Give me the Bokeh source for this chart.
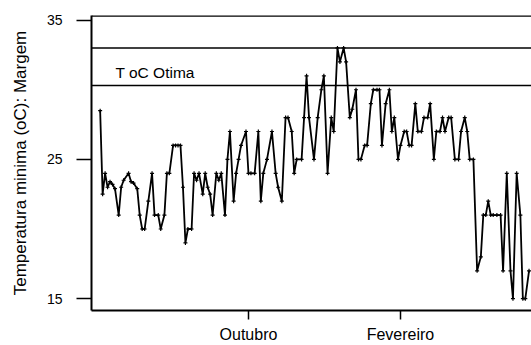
from bokeh.plotting import figure
from bokeh.models import Range1d, Span, FixedTicker, Label
from bokeh.embed import file_html
from bokeh.resources import INLINE

# days relative to 1 October
days = [-120, -118, -116, -114, -112, -110, -108, -105, -103, -101,
        -97, -95, -93, -90, -88, -86, -84, -81, -78, -76,
        -73, -71, -68, -66, -64, -61, -59, -57, -55, -53,
        -51, -49, -46, -44, -42, -40, -37, -35, -33, -31,
        -29, -26, -24, -22, -19, -17, -15, -12, -10, -8,
        -6, -2, 0, 2, 5, 8, 10, 12, 15, 19,
        22, 24, 27, 30, 32, 35, 37, 39, 43, 45,
        47, 49, 53, 56, 59, 61, 64, 67, 69, 72,
        74, 77, 79, 82, 84, 87, 89, 91, 94, 96,
        99, 101, 104, 106, 108, 111, 114, 116, 118, 121,
        123, 126, 128, 130, 132, 135, 137, 140, 142, 145,
        147, 150, 152, 155, 157, 159, 162, 164, 167, 170,
        172, 175, 177, 179, 182, 185, 188, 190, 192, 194,
        196, 198, 201, 204, 206, 209, 212, 214, 217, 220,
        222, 224, 227]

temps = [28.5, 22.5, 24, 23, 23.4, 23.2, 22.9, 21, 23, 23.5,
         24, 23.4, 23.3, 22.9, 21, 20, 20, 22, 24, 21,
         21, 20, 21, 24, 24, 26, 26, 26, 26, 23,
         19, 20, 20, 24, 23.5, 24, 22.5, 24, 23, 22.5,
         21, 24, 23.5, 24, 21, 25, 27, 22, 24, 25,
         26, 27, 24, 24, 24, 27, 22, 24, 25, 27,
         24, 23, 22, 28, 28, 27, 24, 25, 25, 28,
         31, 28, 25, 28, 30, 31, 24, 28, 27, 33,
         32, 33, 32, 28, 28.6, 30, 25, 25, 26, 26,
         29, 30, 30, 30, 26, 29, 30, 27, 28, 25,
         26, 27, 27, 26, 26, 29, 27, 27, 28, 28,
         29, 25, 27, 27, 28, 27, 28, 28, 25, 25,
         27, 28, 27, 25, 25, 17, 18, 21, 21, 22,
         21, 21, 21, 21, 17, 24, 17, 15, 24, 21,
         15, 15, 17]

month_ticks = [0, 123]
month_labels = ["Outubro", "Fevereiro"]
y_ticks = [15, 25, 35]
ref_levels = [35.3, 33, 30.3]
ref_text = "T oC Otima"
y_title = "Temperatura minima (oC): Margem"

FONT = "Liberation Sans"

p = figure(width=531, height=345, output_backend="svg", toolbar_location=None,
           x_range=Range1d(-127, 229), y_range=Range1d(14.15, 35.33),
           min_border_left=91, min_border_right=0, min_border_top=15,
           min_border_bottom=31)
p.outline_line_color = None
p.xgrid.visible = False
p.ygrid.visible = False

for lv in ref_levels:
    p.add_layout(Span(location=lv, dimension="width", line_color="black",
                      line_width=1.6))

p.line(days, temps, line_color="black", line_width=1.8)
p.scatter(days, temps, marker="cross", size=4, line_color="black", line_width=1.2)

p.add_layout(Label(x=-107.6, y=31.25, text=ref_text, text_font=FONT,
                   text_font_size="15.5px", text_baseline="alphabetic",
                   text_color="black"))

xa = p.xaxis[0]
xa.ticker = FixedTicker(ticks=month_ticks)
xa.major_label_overrides = {t: l for t, l in zip(month_ticks, month_labels)}
xa.minor_tick_line_color = None
xa.major_tick_in = 0
xa.major_tick_out = 9
xa.major_label_standoff = 6
xa.axis_line_width = 2
xa.major_tick_line_width = 1.5
xa.major_label_text_font = FONT
xa.major_label_text_font_size = "16px"
xa.major_label_text_color = "black"

ya = p.yaxis[0]
ya.ticker = FixedTicker(ticks=y_ticks)
ya.minor_tick_line_color = None
ya.major_tick_in = 0
ya.major_tick_out = 15
ya.major_label_standoff = 14
ya.axis_line_width = 2
ya.major_tick_line_width = 1.5
ya.major_label_text_font = FONT
ya.major_label_text_font_size = "14px"
ya.major_label_text_color = "black"
ya.axis_label = y_title
ya.axis_label_text_font = FONT
ya.axis_label_text_font_style = "normal"
ya.axis_label_text_font_size = "17px"
ya.axis_label_text_color = "black"
ya.axis_label_standoff = 14

open("out.html", "w").write(file_html(p, INLINE))
